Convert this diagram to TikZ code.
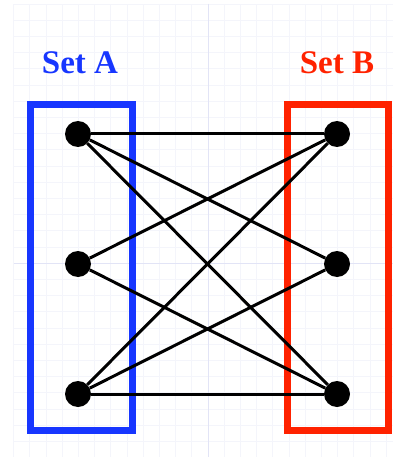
\documentclass[tikz,border=0pt]{standalone}
\usepackage{fontspec}
\setmainfont{Liberation Serif}
\definecolor{setblue}{HTML}{1736FF}
\definecolor{setred}{HTML}{FF2200}
\definecolor{gridminor}{HTML}{F4F5FB}
\definecolor{gridmajor}{HTML}{E2E4F6}
\tikzset{
  vertex/.style={circle, fill=black, inner sep=0pt, minimum size=26pt},
  link/.style={line width=3pt, black},
  setframe/.style={line width=7pt},
  setlabel/.style={font=\bfseries\fontsize{33}{36}\selectfont, anchor=base}
}
\begin{document}
\begin{tikzpicture}[x=1pt, y=-1pt]
  \useasboundingbox (0,0) rectangle (393,457);
  % faint background grid with two axis lines
  \foreach \i in {0,...,23}
    \draw[gridminor, line width=0.7pt] ({13.5+16.2*\i},4) -- ({13.5+16.2*\i},457);
  \foreach \j in {0,...,27}
    \draw[gridminor, line width=0.7pt] (13.5,{4+16.2*\j}) -- (393,{4+16.2*\j});
  \draw[gridmajor, line width=0.8pt] (208.5,4) -- (208.5,457);
  \draw[gridmajor, line width=0.8pt] (13.5,263) -- (393,263);
  % set frames
  \draw[setframe, setblue] (30.5,104.5) rectangle (132,430);
  \draw[setframe, setred] (287,104.5) rectangle (388.5,430);
  % set labels
  \node[setlabel, setblue] (la) at (80,74) {Set A};
  \node[setlabel, setred] (lb) at (337,74) {Set B};
  % vertices
  \node[vertex] (a1) at (78,134) {};
  \node[vertex] (a2) at (78,264) {};
  \node[vertex] (a3) at (78,394) {};
  \node[vertex] (b1) at (337,134) {};
  \node[vertex] (b2) at (337,264) {};
  \node[vertex] (b3) at (337,394) {};
  % edges between the two sets
  \foreach \a/\b in {a1/b1,a1/b2,a1/b3,a2/b1,a2/b3,a3/b1,a3/b2,a3/b3}
    \draw[link] (\a) -- (\b);
\end{tikzpicture}
\end{document}
